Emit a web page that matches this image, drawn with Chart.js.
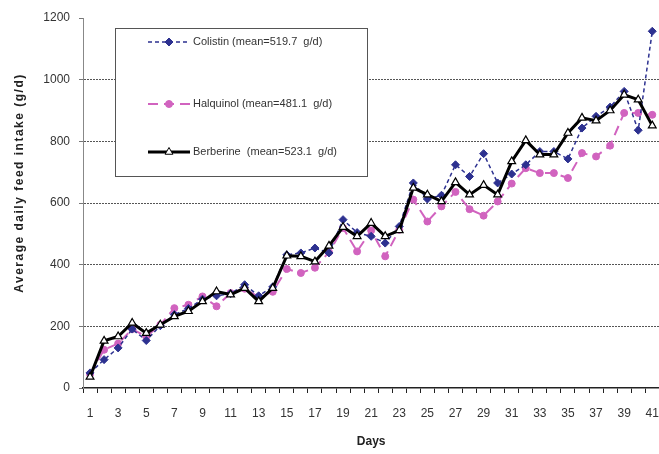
<!DOCTYPE html>
<html>
<head>
<meta charset="utf-8">
<script src="https://cdn.jsdelivr.net/npm/chart.js@4.4.0/dist/chart.umd.min.js"></script>
<style>
  html, body { margin: 0; padding: 0; background: #ffffff; overflow: hidden; }
  #wrap { width: 659px; height: 454px; overflow: hidden; }
  #c { display: block; }
</style>
</head>
<body>
<div id="wrap"><canvas id="c" width="665" height="454"></canvas></div>
<script>
// Day of trial (category axis)
const days = ['1','2','3','4','5','6','7','8','9','10','11','12','13','14','15','16','17','18','19','20',
              '21','22','23','24','25','26','27','28','29','30','31','32','33','34','35','36','37','38','39','40','41'];

// Average daily feed intake, g/d
const colistin = [49, 92, 130, 191, 154, 202, 238, 258, 288, 299, 306, 335, 299, 328, 432, 438, 454, 438, 546, 504,
                  492, 470, 524, 665, 613, 625, 724, 686, 760, 665, 694, 724, 767, 767, 743, 843, 881, 911, 962, 836, 1157];
const halquinol = [45, 124, 144, 191, 167, 205, 259, 270, 297, 265, 308, 322, 295, 312, 386, 373, 390, 440, 519, 443,
                   511, 427, 513, 611, 540, 589, 636, 580, 559, 605, 663, 713, 697, 697, 681, 762, 751, 786, 892, 892, 886];
const berberine = [36, 153, 167, 211, 178, 205, 232, 249, 281, 313, 303, 324, 281, 324, 429, 427, 410, 461, 522, 492,
                   535, 492, 511, 649, 627, 605, 667, 627, 658, 627, 735, 803, 757, 757, 827, 876, 867, 900, 951, 935, 851];

const seriesLabels = ['Colistin (mean=519.7  g/d)', 'Halquinol (mean=481.1  g/d)', 'Berberine  (mean=523.1  g/d)'];
const yMin = 0, yMax = 1200, yStep = 200;
const yTitle = 'Average daily feed intake (g/d)';
const xTitle = 'Days';

const FONT = '"Liberation Sans", Arial, sans-serif';

// Boxed legend drawn inside the plot, upper left
const boxLegend = {
  id: 'boxLegend',
  afterDraw(chart) {
    const ctx = chart.ctx;
    const bx = 115, by = 28, bw = 252, bh = 148;
    const rows = [42, 104, 152];
    ctx.save();
    ctx.fillStyle = '#ffffff';
    ctx.fillRect(bx, by, bw, bh);
    ctx.strokeStyle = '#555555';
    ctx.lineWidth = 1;
    ctx.setLineDash([]);
    ctx.strokeRect(bx + 0.5, by + 0.5, bw, bh);
    chart.data.datasets.forEach((ds, i) => {
      const y = rows[i];
      ctx.save();
      ctx.strokeStyle = ds.borderColor;
      ctx.lineWidth = ds.borderWidth;
      ctx.setLineDash(ds.borderDash || []);
      ctx.beginPath();
      ctx.moveTo(148, y);
      ctx.lineTo(190, y);
      ctx.stroke();
      ctx.restore();
      ctx.save();
      ctx.fillStyle = ds.pointBackgroundColor;
      ctx.strokeStyle = ds.pointBorderColor;
      Chart.helpers.drawPoint(ctx, {
        pointStyle: ds.pointStyle, rotation: 0,
        radius: ds.pointRadius, borderWidth: ds.pointBorderWidth
      }, 169, y);
      ctx.restore();
      ctx.fillStyle = '#333333';
      ctx.font = '11px ' + FONT;
      ctx.textAlign = 'left';
      ctx.textBaseline = 'middle';
      ctx.fillText(ds.label, 193, y);
    });
    ctx.restore();
  }
};

// Rotated, letter-spaced title for the value axis
const yAxisTitle = {
  id: 'yAxisTitle',
  afterDraw(chart) {
    const ctx = chart.ctx;
    ctx.save();
    ctx.translate(20, 183);
    ctx.rotate(-Math.PI / 2);
    if ('letterSpacing' in ctx) ctx.letterSpacing = '1.5px';
    ctx.fillStyle = '#222222';
    ctx.font = 'bold 12px ' + FONT;
    ctx.textAlign = 'center';
    ctx.textBaseline = 'middle';
    ctx.fillText(yTitle, 0, 0);
    ctx.restore();
  }
};

new Chart(document.getElementById('c'), {
  type: 'line',
  data: {
    labels: days,
    datasets: [
      {
        label: seriesLabels[0], data: colistin, order: 1,
        borderColor: '#2d3190', borderWidth: 1.5, borderDash: [4, 3],
        pointStyle: 'rectRot', pointRadius: 4, pointBorderWidth: 1,
        pointBackgroundColor: '#2d3190', pointBorderColor: '#2d3190',
        tension: 0, fill: false
      },
      {
        label: seriesLabels[1], data: halquinol, order: 2,
        borderColor: '#d163bf', borderWidth: 2, borderDash: [10, 6],
        pointStyle: 'circle', pointRadius: 3.5, pointBorderWidth: 1,
        pointBackgroundColor: '#d163bf', pointBorderColor: '#d163bf',
        tension: 0, fill: false
      },
      {
        label: seriesLabels[2], data: berberine, order: 0,
        borderColor: '#000000', borderWidth: 3, borderDash: [],
        pointStyle: 'triangle', pointRadius: 4.5, pointBorderWidth: 1.2,
        pointBackgroundColor: '#ffffff', pointBorderColor: '#000000',
        tension: 0, fill: false
      }
    ]
  },
  options: {
    responsive: false,
    animation: false,
    devicePixelRatio: 1,
    layout: { padding: { left: 0, right: 0, top: 18, bottom: 0 } },
    plugins: { legend: { display: false }, tooltip: { enabled: false } },
    scales: {
      x: {
        offset: true,
        afterFit(scale) { scale.height = 66; scale.paddingLeft = 0; scale.paddingRight = 0; },
        grid: { offset: true, drawOnChartArea: false, tickLength: 5, tickColor: '#222222', tickWidth: 1 },
        border: { color: '#222222', width: 1.5 },
        ticks: {
          autoSkip: false, maxRotation: 0, minRotation: 0, padding: 13,
          color: '#333333', font: { family: FONT, size: 12 },
          callback: (v, i) => (i % 2 === 0 ? days[i] : '')
        },
        title: { display: true, text: xTitle, color: '#222222',
                 font: { family: FONT, size: 12, weight: 'bold' }, padding: { top: 0, bottom: 5 } }
      },
      y: {
        min: yMin, max: yMax,
        afterFit(scale) { scale.width = 83; },
        ticks: { stepSize: yStep, padding: 9, color: '#333333', font: { family: FONT, size: 12 },
                 callback: v => String(v) },
        grid: {
          color: c => (c.tick && (c.tick.value === yMin || c.tick.value === yMax)) ? 'rgba(0,0,0,0)' : '#555555',
          lineWidth: 1, tickLength: 4, tickColor: '#777777', tickBorderDash: []
        },
        border: { color: '#888888', width: 1, dash: [2, 1] },
        title: { display: false }
      }
    }
  },
  plugins: [boxLegend, yAxisTitle]
});
</script>
</body>
</html>
